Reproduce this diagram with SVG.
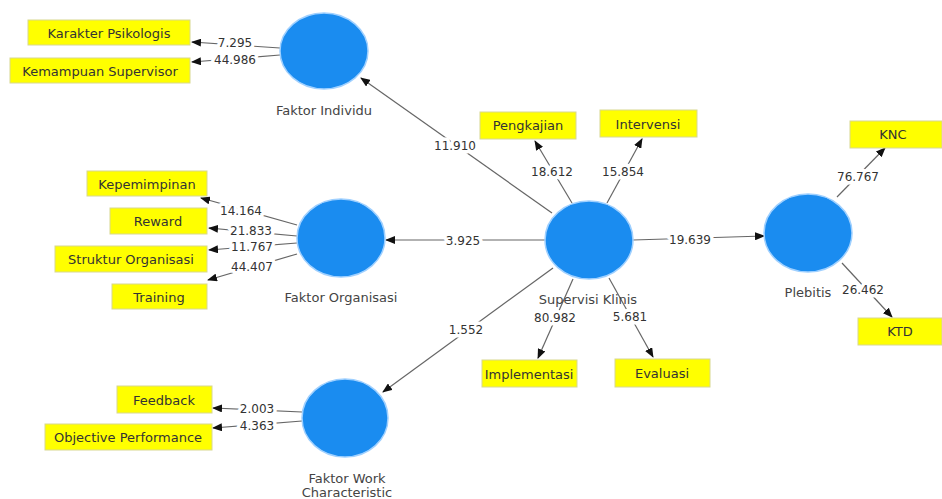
<svg xmlns="http://www.w3.org/2000/svg" width="942" height="499" viewBox="0 0 942 499">
<style>
.bg{fill:#ffffff}
.lv{fill:#1a8cf0;stroke:#9fd0ff;stroke-width:1.5}
.ind{fill:#ffff00;stroke:#d8d890;stroke-width:1}
.it{font-family:"DejaVu Sans",sans-serif;font-size:13px;fill:#333;text-anchor:middle;dominant-baseline:central}
.nl{font-family:"DejaVu Sans",sans-serif;font-size:13px;fill:#444;text-anchor:middle;dominant-baseline:central}
.el{font-family:"DejaVu Sans",sans-serif;font-size:12px;fill:#333;text-anchor:middle;dominant-baseline:central;stroke:#fff;stroke-width:7;paint-order:stroke;stroke-linejoin:round}
.cn{stroke:#666;stroke-width:1.2;fill:none;marker-end:url(#ah)}
</style>
<defs>
<marker id="ah" markerUnits="userSpaceOnUse" markerWidth="10" markerHeight="8" refX="9" refY="4" orient="auto">
<path d="M0,0 L10,4 L0,8 Z" fill="#111"/>
</marker>
</defs>
<rect class="bg" x="0" y="0" width="942" height="499"/>
<g id="connectors">
<line class="cn" x1="280" y1="48" x2="192" y2="42"/>
<line class="cn" x1="280" y1="55" x2="192" y2="62"/>
<line class="cn" x1="297" y1="225" x2="201" y2="198"/>
<line class="cn" x1="297" y1="236" x2="209" y2="228"/>
<line class="cn" x1="297" y1="243" x2="209" y2="250"/>
<line class="cn" x1="297" y1="254" x2="208" y2="280"/>
<line class="cn" x1="552" y1="213" x2="361" y2="78"/>
<line class="cn" x1="545" y1="240" x2="386" y2="240"/>
<line class="cn" x1="553" y1="268" x2="383" y2="392"/>
<line class="cn" x1="572" y1="203" x2="535" y2="141"/>
<line class="cn" x1="607" y1="203" x2="642" y2="139"/>
<line class="cn" x1="573" y1="279" x2="538" y2="358"/>
<line class="cn" x1="609" y1="278" x2="653" y2="357"/>
<line class="cn" x1="633" y1="240" x2="764" y2="236"/>
<line class="cn" x1="837" y1="197" x2="885" y2="148"/>
<line class="cn" x1="842" y1="263" x2="892" y2="317"/>
<line class="cn" x1="302" y1="412" x2="213" y2="408"/>
<line class="cn" x1="302" y1="421" x2="213" y2="428"/>
<text class="el" x="235" y="43">7.295</text>
<text class="el" x="235" y="60">44.986</text>
<text class="el" x="241" y="211">14.164</text>
<text class="el" x="251" y="231">21.833</text>
<text class="el" x="252" y="247">11.767</text>
<text class="el" x="252" y="267">44.407</text>
<text class="el" x="455" y="146">11.910</text>
<text class="el" x="463" y="241">3.925</text>
<text class="el" x="466" y="330">1.552</text>
<text class="el" x="552" y="172">18.612</text>
<text class="el" x="623" y="172">15.854</text>
<text class="el" x="555" y="318">80.982</text>
<text class="el" x="630" y="317">5.681</text>
<text class="el" x="690" y="240">19.639</text>
<text class="el" x="858" y="177">76.767</text>
<text class="el" x="863" y="290">26.462</text>
<text class="el" x="257" y="409">2.003</text>
<text class="el" x="257" y="426">4.363</text>
</g>
<g id="faktor-individu">
<ellipse class="lv" cx="324" cy="51" rx="44" ry="38"/>
<text class="nl" x="324" y="110">Faktor Individu</text>
</g>
<g id="faktor-organisasi">
<ellipse class="lv" cx="341" cy="238" rx="44" ry="39"/>
<text class="nl" x="341" y="297">Faktor Organisasi</text>
</g>
<g id="faktor-work">
<ellipse class="lv" cx="345" cy="418" rx="43" ry="39"/>
<text class="nl" x="347" y="478">Faktor Work</text>
<text class="nl" x="347" y="492">Characteristic</text>
</g>
<g id="supervisi-klinis">
<ellipse class="lv" cx="589" cy="240" rx="44" ry="39"/>
<text class="nl" x="588" y="299">Supervisi Klinis</text>
</g>
<g id="plebitis">
<ellipse class="lv" cx="808" cy="233" rx="44" ry="39"/>
<text class="nl" x="808" y="292">Plebitis</text>
</g>
<g id="karakter-psikologis">
<rect class="ind" x="28" y="20" width="162" height="25"/>
<text class="it" x="109" y="33">Karakter Psikologis</text>
</g>
<g id="kemampuan-supervisor">
<rect class="ind" x="10" y="58" width="180" height="25"/>
<text class="it" x="100" y="71">Kemampuan Supervisor</text>
</g>
<g id="kepemimpinan">
<rect class="ind" x="87" y="171" width="120" height="25"/>
<text class="it" x="147" y="184">Kepemimpinan</text>
</g>
<g id="reward">
<rect class="ind" x="110" y="208" width="97" height="26"/>
<text class="it" x="158" y="221">Reward</text>
</g>
<g id="struktur-organisasi">
<rect class="ind" x="55" y="246" width="152" height="26"/>
<text class="it" x="131" y="259">Struktur Organisasi</text>
</g>
<g id="training">
<rect class="ind" x="112" y="284" width="95" height="25"/>
<text class="it" x="159" y="297">Training</text>
</g>
<g id="feedback">
<rect class="ind" x="117" y="386" width="95" height="27"/>
<text class="it" x="164" y="400">Feedback</text>
</g>
<g id="objective-performance">
<rect class="ind" x="45" y="424" width="167" height="26"/>
<text class="it" x="128" y="437">Objective Performance</text>
</g>
<g id="pengkajian">
<rect class="ind" x="480" y="112" width="96" height="27"/>
<text class="it" x="528" y="125">Pengkajian</text>
</g>
<g id="intervensi">
<rect class="ind" x="600" y="110" width="97" height="27"/>
<text class="it" x="648" y="124">Intervensi</text>
</g>
<g id="implementasi">
<rect class="ind" x="482" y="360" width="95" height="27"/>
<text class="it" x="529" y="374">Implementasi</text>
</g>
<g id="evaluasi">
<rect class="ind" x="615" y="359" width="95" height="28"/>
<text class="it" x="662" y="373">Evaluasi</text>
</g>
<g id="knc">
<rect class="ind" x="850" y="121" width="92" height="27"/>
<text class="it" x="893" y="134">KNC</text>
</g>
<g id="ktd">
<rect class="ind" x="858" y="318" width="84" height="27"/>
<text class="it" x="900" y="331">KTD</text>
</g>
</svg>
